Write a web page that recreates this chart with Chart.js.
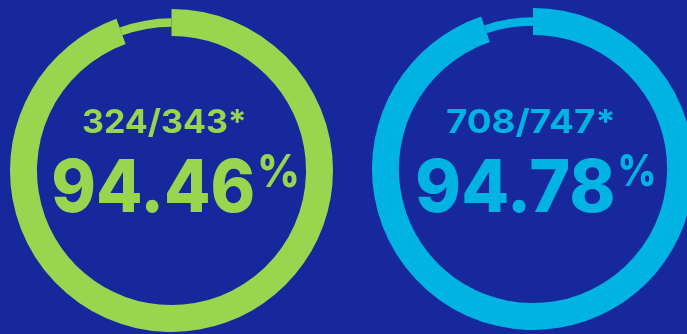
<!DOCTYPE html>
<html><head><meta charset="utf-8">
<script src="https://cdn.jsdelivr.net/npm/chart.js@4/dist/chart.umd.min.js"></script>
<style>
html,body{margin:0;padding:0;width:687px;height:334px;overflow:hidden;background:#16289C;}
.wrap{position:absolute;}
.wrap canvas{position:absolute;left:0;top:0;}
</style></head><body>
<div class="wrap" style="left:10px;top:9px;width:323px;height:323px">
  <div style="position:absolute;inset:0"><canvas id="t1"></canvas></div>
  <div style="position:absolute;inset:0"><canvas id="c1"></canvas></div>
</div>
<div class="wrap" style="left:372px;top:8px;width:322px;height:322px">
  <div style="position:absolute;inset:0"><canvas id="t2"></canvas></div>
  <div style="position:absolute;inset:0"><canvas id="c2"></canvas></div>
</div>
<script>
// ---- data ----
const categories = ["Achieved", "Remaining"];
const achieved = [324, 708];
const totals = [343, 747];
const colors = ["#98D64F", "#00B3E3"];

// ---- layout (pixels, relative to donut centre) ----
const layouts = [
  {fracDx:-88.5, fracDy:-37.5, fracW:161, fracH:25, bigDx:-118.5, bigDy:41.5, bigW:200, bigH:55, pctGap:7, pctDy:16.5, pctW:37, pctH:34},
  {fracDx:-86, fracDy:-36, fracW:166, fracH:25, bigDx:-116, bigDy:43, bigW:196, bigH:55, pctGap:7, pctDy:16.5, pctW:34, pctH:33}
];

const FONT = "Inter, 'Open Sans', sans-serif";
function drawFit(ctx, text, x, baseline, targetW, targetH, refText, weight){
  const wt = weight || 700;
  ctx.font = `${wt} 100px ${FONT}`;
  const ref = ctx.measureText(refText || '0123456789');
  const fs = 100 * targetH / (ref.actualBoundingBoxAscent + (refText === '%' ? ref.actualBoundingBoxDescent : 0));
  ctx.font = `${wt} ${fs}px ${FONT}`;
  const m = ctx.measureText(text);
  const w = m.actualBoundingBoxLeft + m.actualBoundingBoxRight;
  const sx = targetW / w;
  ctx.save();
  ctx.translate(x, baseline);
  ctx.scale(sx, 1);
  ctx.fillText(text, m.actualBoundingBoxLeft, 0);
  ctx.restore();
}

const centerText = {
  id: 'centerText',
  afterDraw(chart, args, o){
    if (!o || !o.fraction) return;
    const ctx = chart.ctx;
    const arc = chart.getDatasetMeta(0).data[0];
    const cx = arc.x, cy = arc.y;
    const L = o.layout;
    ctx.save();
    ctx.fillStyle = o.color;
    ctx.textAlign = 'left';
    ctx.textBaseline = 'alphabetic';
    drawFit(ctx, o.fraction, cx + L.fracDx, cy + L.fracDy, L.fracW, L.fracH, null, 700);
    drawFit(ctx, o.pct, cx + L.bigDx, cy + L.bigDy, L.bigW, L.bigH, null, 800);
    const endX = cx + L.bigDx + L.bigW;
    drawFit(ctx, '%', endX + L.pctGap, cy + L.pctDy, L.pctW, L.pctH, '%', 800);
    ctx.restore();
  }
};

const clear = 'rgba(0,0,0,0)';
function baseOpts(){
  return {
    responsive: true, maintainAspectRatio: false, animation: false,
    layout: {padding: 0},
    plugins: {legend:{display:false}, tooltip:{enabled:false}}
  };
}

function makeDonut(thickId, thinId, i){
  const a = achieved[i], t = totals[i], r = t - a;
  const col = colors[i];
  // thin remainder arc (centred in the thick ring)
  const o1 = baseOpts();
  o1.radius = '94.2%';
  o1.cutout = '94.5%';
  new Chart(document.getElementById(thinId), {
    type: 'doughnut',
    data: {labels: categories, datasets: [{data:[a, r], backgroundColor:[clear, col], borderWidth:0}]},
    options: o1
  });
  // thick achieved arc
  const o2 = baseOpts();
  o2.cutout = '83.3%';
  o2.plugins.centerText = {
    color: col,
    fraction: `${a}/${t}*`,
    pct: (a / t * 100).toFixed(2),
    layout: layouts[i]
  };
  new Chart(document.getElementById(thickId), {
    type: 'doughnut',
    data: {labels: categories, datasets: [{data:[a, r], backgroundColor:[col, clear], borderWidth:0}]},
    options: o2,
    plugins: [centerText]
  });
}
makeDonut('c1', 't1', 0);
makeDonut('c2', 't2', 1);
</script>
</body></html>
